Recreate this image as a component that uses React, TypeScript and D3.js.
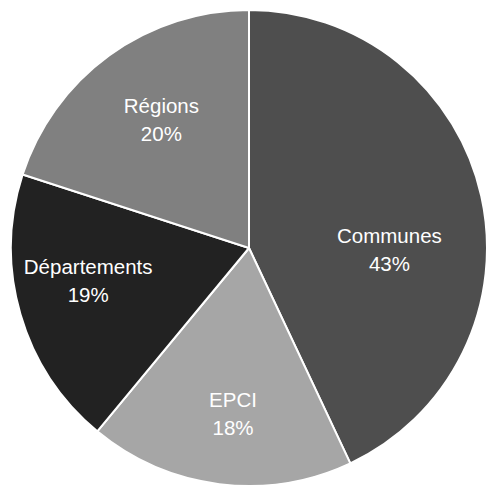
import React from 'react';
import * as d3 from 'd3';

const categories = ['Communes', 'EPCI', 'Départements', 'Régions'];
const shares = [43, 18, 19, 20];
const sliceColors = ['#4e4e4e', '#a6a6a6', '#222222', '#808080'];

// label tweaks (Excel "best fit" style): angle shift in degrees, radius as fraction of outer radius
const labelShift = [13.5, -1.7, 4.5, 1.5];
const labelRadius = [0.59, 0.7, 0.69, 0.65];

const W = 489;
const H = 489;
const cx = 249;
const cy = 248;
const R = 238;

export default function App() {
  const pie = d3.pie<number>().value(d => d).sort(null);
  const arcs = pie(shares);
  const arc = d3.arc<d3.PieArcDatum<number>>().innerRadius(0).outerRadius(R);

  return (
    <svg
      width={W}
      height={H}
      style={{ position: 'fixed', left: 0, top: 0, background: '#fff' }}
      fontFamily="'Liberation Sans', Arial, sans-serif"
    >
      <rect width={W} height={H} fill="#fff" />
      <g transform={`translate(${cx},${cy})`}>
        {arcs.map((a, i) => (
          <path
            key={categories[i]}
            d={arc(a) || ''}
            fill={sliceColors[i]}
            stroke="#fff"
            strokeWidth={2}
            strokeLinejoin="round"
          />
        ))}
        {arcs.map((a, i) => {
          const mid = (a.startAngle + a.endAngle) / 2 + (labelShift[i] * Math.PI) / 180;
          const r = R * labelRadius[i];
          const x = Math.sin(mid) * r;
          const y = -Math.cos(mid) * r;
          return (
            <text
              key={'t' + categories[i]}
              x={x}
              y={y}
              textAnchor="middle"
              fill="#fff"
              fontSize={20.5}
            >
              <tspan x={x} dy="-0.35em">{categories[i]}</tspan>
              <tspan x={x} dy="1.37em">{shares[i]}%</tspan>
            </text>
          );
        })}
      </g>
    </svg>
  );
}
